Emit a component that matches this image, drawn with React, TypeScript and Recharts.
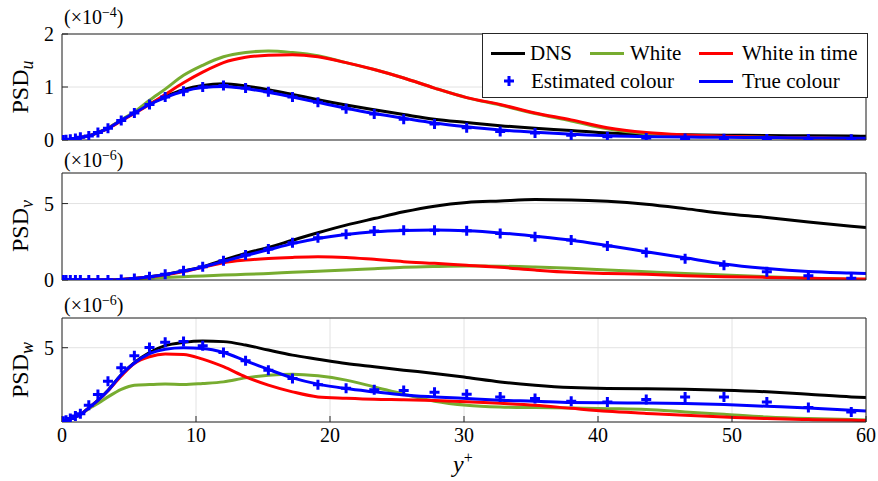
import React from "react";
import { CartesianGrid, Line, LineChart, XAxis, YAxis } from "recharts";

const W = 878;
const H = 481;
const FONT =
  '"Liberation Serif", "Times New Roman", Tinos, "Nimbus Roman", "Noto Serif", "DejaVu Serif", FreeSerif, serif';
const AXIS = "#262626";
const GRID = "#e2e2e2";

const BLACK = "#000000";
const GREEN = "#77AC30";
const RED = "#FF0000";
const BLUE = "#0000FF";

// wall-normal positions (marker locations) plus the end of the domain
const yPlus = [
  0.1, 0.3, 0.62, 1.0, 1.37, 2.0, 2.68, 3.43, 4.42, 5.4, 6.53, 7.7, 9.07, 10.5,
  12.05, 13.7, 15.4, 17.2, 19.1, 21.2, 23.3, 25.5, 27.8, 30.2, 32.7, 35.3, 38.0,
  40.7, 43.6, 46.5, 49.4, 52.6, 55.7, 58.9, 60,
];
const xTicks = [0, 10, 20, 30, 40, 50, 60];

// PSD_u (x1e-4)
const dnsU = [0, 0.003, 0.012, 0.028, 0.048, 0.078, 0.14, 0.22, 0.37, 0.51, 0.68, 0.82, 0.95, 1.03, 1.06, 1.02, 0.95, 0.86, 0.76, 0.66, 0.57, 0.48, 0.39, 0.33, 0.27, 0.22, 0.18, 0.13, 0.11, 0.1, 0.09, 0.085, 0.08, 0.075, 0.07];
const whiteU = [0, 0.003, 0.012, 0.028, 0.048, 0.08, 0.14, 0.23, 0.38, 0.53, 0.75, 0.96, 1.22, 1.41, 1.57, 1.65, 1.68, 1.65, 1.59, 1.46, 1.33, 1.17, 0.98, 0.8, 0.66, 0.5, 0.36, 0.21, 0.12, 0.09, 0.065, 0.05, 0.04, 0.03, 0.03];
const whiteTimeU = [0, 0.003, 0.012, 0.028, 0.048, 0.078, 0.14, 0.22, 0.36, 0.5, 0.67, 0.86, 1.08, 1.28, 1.46, 1.56, 1.6, 1.61, 1.57, 1.46, 1.33, 1.17, 0.98, 0.8, 0.67, 0.51, 0.38, 0.23, 0.14, 0.095, 0.07, 0.05, 0.04, 0.03, 0.03];
const estU = [0, 0.003, 0.013, 0.03, 0.05, 0.076, 0.14, 0.22, 0.37, 0.51, 0.67, 0.81, 0.92, 1.0, 1.03, 0.98, 0.91, 0.81, 0.71, 0.59, 0.49, 0.39, 0.3, 0.23, 0.16, 0.13, 0.09, 0.06, 0.04, 0.03, 0.025, 0.02, 0.018, 0.015, null];
const trueU = [0, 0.003, 0.012, 0.028, 0.048, 0.078, 0.14, 0.22, 0.37, 0.51, 0.67, 0.8, 0.92, 0.99, 1.01, 0.97, 0.9, 0.81, 0.71, 0.6, 0.5, 0.41, 0.32, 0.25, 0.19, 0.145, 0.11, 0.08, 0.065, 0.055, 0.05, 0.045, 0.04, 0.035, 0.035];

// PSD_v (x1e-6)
const dnsV = [0, 0, 0, 0, 0, 0, 0, 0.01, 0.04, 0.1, 0.21, 0.36, 0.6, 0.86, 1.3, 1.74, 2.13, 2.6, 3.09, 3.59, 4.02, 4.46, 4.83, 5.07, 5.17, 5.26, 5.24, 5.15, 4.96, 4.67, 4.35, 4.09, 3.8, 3.52, 3.43];
const whiteV = [0, 0, 0, 0, 0, 0, 0, 0.01, 0.03, 0.07, 0.11, 0.17, 0.22, 0.26, 0.32, 0.37, 0.43, 0.5, 0.57, 0.65, 0.74, 0.83, 0.88, 0.91, 0.9, 0.85, 0.77, 0.65, 0.54, 0.43, 0.33, 0.22, 0.11, 0.05, 0.04];
const whiteTimeV = [0, 0, 0, 0, 0, 0, 0, 0.01, 0.04, 0.1, 0.2, 0.34, 0.55, 0.83, 1.13, 1.3, 1.41, 1.48, 1.52, 1.48, 1.35, 1.2, 1.09, 0.96, 0.83, 0.65, 0.5, 0.43, 0.37, 0.28, 0.22, 0.17, 0.11, 0.07, 0.06];
const estV = [0, 0, 0, 0, 0, 0, 0, 0, 0.04, 0.1, 0.22, 0.37, 0.61, 0.87, 1.26, 1.63, 2.02, 2.43, 2.76, 3.0, 3.2, 3.26, 3.26, 3.22, 3.04, 2.83, 2.61, 2.22, 1.8, 1.39, 0.96, 0.54, 0.28, 0.11, null];
const trueV = [0, 0, 0, 0, 0, 0, 0, 0.01, 0.04, 0.1, 0.21, 0.36, 0.58, 0.85, 1.22, 1.6, 1.98, 2.38, 2.72, 2.98, 3.15, 3.24, 3.27, 3.22, 3.08, 2.86, 2.6, 2.25, 1.85, 1.45, 1.05, 0.75, 0.55, 0.45, 0.42];

// PSD_w (x1e-6)
const dnsW = [0.05, 0.1, 0.2, 0.35, 0.5, 0.95, 1.45, 2.12, 3.18, 4.0, 4.68, 5.14, 5.36, 5.45, 5.41, 5.18, 4.84, 4.5, 4.23, 3.94, 3.72, 3.49, 3.27, 3.0, 2.7, 2.48, 2.32, 2.25, 2.23, 2.2, 2.14, 2.03, 1.87, 1.69, 1.65];
const whiteW = [0.05, 0.1, 0.2, 0.35, 0.5, 0.9, 1.24, 1.69, 2.2, 2.48, 2.52, 2.55, 2.52, 2.59, 2.7, 2.97, 3.15, 3.22, 3.11, 2.82, 2.36, 1.87, 1.4, 1.13, 1.01, 0.97, 0.95, 0.9, 0.84, 0.68, 0.52, 0.34, 0.23, 0.16, 0.14];
const whiteTimeW = [0.05, 0.1, 0.2, 0.35, 0.5, 0.95, 1.45, 2.1, 3.1, 3.94, 4.39, 4.57, 4.55, 4.23, 3.72, 3.04, 2.48, 2.03, 1.69, 1.6, 1.53, 1.5, 1.45, 1.37, 1.26, 1.13, 0.92, 0.72, 0.58, 0.45, 0.34, 0.23, 0.16, 0.11, 0.1];
const estW = [0.05, 0.11, 0.23, 0.41, 0.56, 1.13, 1.85, 2.75, 3.65, 4.46, 5.02, 5.36, 5.41, 5.14, 4.68, 4.12, 3.49, 2.93, 2.5, 2.28, 2.17, 2.12, 2.0, 1.87, 1.69, 1.58, 1.4, 1.35, 1.51, 1.69, 1.69, 1.35, 0.97, 0.68, null];
const trueW = [0.05, 0.1, 0.2, 0.35, 0.5, 0.95, 1.45, 2.12, 3.18, 3.97, 4.6, 4.9, 5.0, 4.95, 4.68, 4.12, 3.54, 2.97, 2.55, 2.25, 2.03, 1.82, 1.69, 1.58, 1.47, 1.4, 1.31, 1.29, 1.28, 1.24, 1.17, 1.06, 0.95, 0.79, 0.74];

type Num = number | null;

function buildRows(dns: Num[], white: Num[], whiteTime: Num[], est: Num[], trueC: Num[]) {
  return yPlus.map((x, i) => ({
    x,
    dns: dns[i],
    white: white[i],
    whiteTime: whiteTime[i],
    est: est[i],
    trueColour: trueC[i],
  }));
}

const PlusDot = (props: any) => {
  const { cx, cy, value, index } = props;
  if (cx == null || cy == null || value == null) return <g key={`p-${index}`} />;
  return (
    <path
      key={`p-${index}`}
      d={`M${cx - 5},${cy}H${cx + 5}M${cx},${cy - 5}V${cy + 5}`}
      stroke={BLUE}
      strokeWidth={3}
      fill="none"
    />
  );
};

interface PanelProps {
  rows: ReturnType<typeof buildRows>;
  yMax: number;
  yTicks: number[];
  plotTop: number;
  plotBottom: number;
  showX?: boolean;
}

function Panel({ rows, yMax, yTicks, plotTop, plotBottom, showX }: PanelProps) {
  const xAxisH = showX ? 40 : 1;
  const tickStyle = { fontSize: 20, fill: "#000", fontFamily: FONT };
  return (
    <div style={{ position: "absolute", left: 0, top: 0 }}>
      <LineChart
        width={W}
        height={H}
        data={rows}
        margin={{ top: plotTop - 1, right: 11, bottom: H - plotBottom - xAxisH, left: 0 }}
        style={{ fontFamily: FONT }}
      >
        <CartesianGrid stroke={GRID} strokeWidth={1} yAxisId="left" />
        <XAxis
          dataKey="x"
          type="number"
          domain={[0, 60]}
          ticks={xTicks}
          allowDataOverflow
          height={xAxisH}
          stroke={AXIS}
          tickSize={-6}
          tickMargin={12}
          tick={showX ? tickStyle : false}
        />
        <XAxis
          xAxisId="top"
          orientation="top"
          dataKey="x"
          type="number"
          domain={[0, 60]}
          ticks={xTicks}
          height={1}
          stroke={AXIS}
          tickSize={-6}
          tick={false}
        />
        <YAxis
          yAxisId="left"
          type="number"
          domain={[0, yMax]}
          ticks={yTicks}
          allowDataOverflow
          width={62}
          stroke={AXIS}
          tickSize={-6}
          tickMargin={14}
          tick={tickStyle}
        />
        <YAxis
          yAxisId="right"
          orientation="right"
          type="number"
          domain={[0, yMax]}
          ticks={yTicks}
          width={1}
          stroke={AXIS}
          tickSize={-6}
          tick={false}
        />
        <Line yAxisId="left" type="monotone" dataKey="dns" stroke={BLACK} strokeWidth={3} dot={false} isAnimationActive={false} />
        <Line yAxisId="left" type="monotone" dataKey="white" stroke={GREEN} strokeWidth={3} dot={false} isAnimationActive={false} />
        <Line yAxisId="left" type="monotone" dataKey="whiteTime" stroke={RED} strokeWidth={3} dot={false} isAnimationActive={false} />
        <Line yAxisId="left" type="monotone" dataKey="trueColour" stroke={BLUE} strokeWidth={3} dot={false} isAnimationActive={false} />
        <Line yAxisId="left" type="monotone" dataKey="est" stroke="none" dot={PlusDot} activeDot={false} isAnimationActive={false} />
      </LineChart>
    </div>
  );
}

const rowsU = buildRows(dnsU, whiteU, whiteTimeU, estU, trueU);
const rowsV = buildRows(dnsV, whiteV, whiteTimeV, estV, trueV);
const rowsW = buildRows(dnsW, whiteW, whiteTimeW, estW, trueW);

function Exponent({ top, exp }: { top: number; exp: string }) {
  return (
    <div style={{ position: "absolute", left: 64, top, fontSize: 20, lineHeight: "20px", whiteSpace: "nowrap" }}>
      (×10<sup style={{ fontSize: 14, verticalAlign: "7px", lineHeight: 0 }}>{exp}</sup>)
    </div>
  );
}

function PsdLabel({ center, sub }: { center: number; sub: string }) {
  return (
    <div
      style={{
        position: "absolute",
        left: 20,
        top: center,
        transform: "translate(-50%, -50%) rotate(-90deg)",
        fontSize: 24,
        lineHeight: "24px",
        whiteSpace: "nowrap",
      }}
    >
      PSD<sub style={{ fontSize: 18, fontStyle: "italic", verticalAlign: "-5px", lineHeight: 0 }}>{sub}</sub>
    </div>
  );
}

function LegendLine({ left, top, color }: { left: number; top: number; color: string }) {
  return <div style={{ position: "absolute", left, top: top - 1.5, width: 34, height: 3, background: color }} />;
}

function LegendText({ left, top, children }: { left: number; top: number; children: React.ReactNode }) {
  return (
    <div style={{ position: "absolute", left, top: top - 12, fontSize: 21, lineHeight: "24px", whiteSpace: "nowrap" }}>
      {children}
    </div>
  );
}

function ChartLegend() {
  const r1 = 19;
  const r2 = 47;
  return (
    <div
      style={{
        position: "absolute",
        left: 482,
        top: 33,
        width: 384,
        height: 63,
        border: `1px solid ${AXIS}`,
        background: "#fff",
      }}
    >
      <LegendLine left={8} top={r1} color={BLACK} />
      <LegendText left={47} top={r1}>DNS</LegendText>
      <LegendLine left={107} top={r1} color={GREEN} />
      <LegendText left={147} top={r1}>White</LegendText>
      <LegendLine left={216} top={r1} color={RED} />
      <LegendText left={259} top={r1}>White in time</LegendText>
      <svg style={{ position: "absolute", left: 20, top: r2 - 6 }} width={12} height={12}>
        <path d="M1,6H11M6,1V11" stroke={BLUE} strokeWidth={3} />
      </svg>
      <LegendText left={48} top={r2}>Estimated colour</LegendText>
      <LegendLine left={216} top={r2} color={BLUE} />
      <LegendText left={259} top={r2}>True colour</LegendText>
    </div>
  );
}

export default function App() {
  return (
    <div
      style={{
        position: "absolute",
        left: 0,
        top: 0,
        width: W,
        height: H,
        background: "#fff",
        fontFamily: FONT,
        color: "#000",
        overflow: "hidden",
      }}
    >
      <Panel rows={rowsU} yMax={2} yTicks={[0, 1, 2]} plotTop={34} plotBottom={140} />
      <Panel rows={rowsV} yMax={7} yTicks={[0, 5]} plotTop={173} plotBottom={280} />
      <Panel rows={rowsW} yMax={7} yTicks={[5]} plotTop={318} plotBottom={422} showX />
      <Exponent top={7} exp="−4" />
      <Exponent top={150} exp="−6" />
      <Exponent top={295} exp="−6" />
      <PsdLabel center={87} sub="u" />
      <PsdLabel center={226} sub="v" />
      <PsdLabel center={370} sub="w" />
      <div style={{ position: "absolute", left: 453, top: 451, fontSize: 24, lineHeight: "26px", fontStyle: "italic" }}>
        y<sup style={{ fontSize: 16, fontStyle: "normal", verticalAlign: "9px", lineHeight: 0 }}>+</sup>
      </div>
      <ChartLegend />
    </div>
  );
}
